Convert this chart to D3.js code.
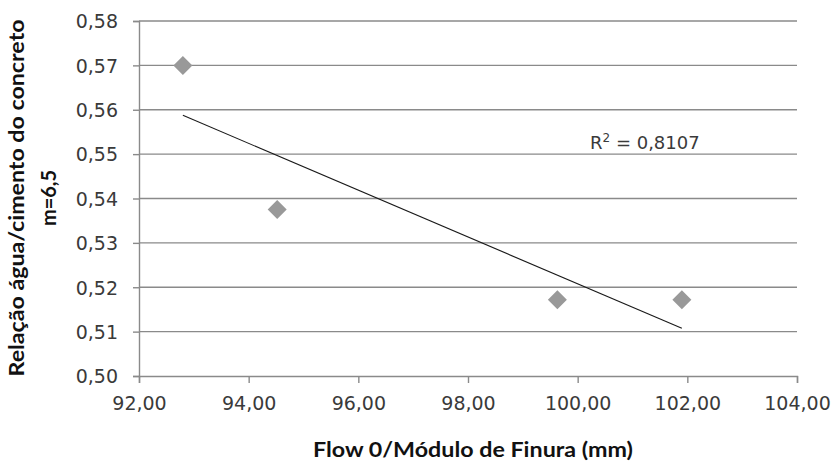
<!DOCTYPE html>
<html>
<head>
<meta charset="utf-8">
<script src="https://cdn.jsdelivr.net/npm/d3@7"></script>
<style>
  html, body { margin: 0; padding: 0; background: #ffffff; }
  svg { display: block; }
</style>
</head>
<body>
<svg id="chart" width="832" height="462"></svg>
<script>
// Flow 0 / módulo de finura (mm) vs. relação água/cimento (m = 6,5)
const flowValues = [92.80, 94.52, 99.63, 101.90];
const waterCementRatio = [0.5700, 0.5375, 0.5172, 0.5172];
const xTicks = [92, 94, 96, 98, 100, 102, 104];
const yTicks = [0.50, 0.51, 0.52, 0.53, 0.54, 0.55, 0.56, 0.57, 0.58];
const rSquaredLabel = "0,8107";
const xTitle = "Flow 0/Módulo de Finura (mm)";
const yTitleLines = ["Relação água/cimento do concreto", "m=6,5"];

const svg = d3.select("#chart");
const plotLeft = 139, plotRight = 797, plotTop = 21, plotBottom = 376;

const x = d3.scaleLinear().domain([92, 104]).range([plotLeft, plotRight]);
const y = d3.scaleLinear().domain([0.50, 0.58]).range([plotBottom, plotTop]);

const fmt = (d, p) => d.toFixed(p).replace(".", ",");
const tickFont = "'DejaVu Sans', sans-serif";
const gridColor = "#8a8a8a";

// horizontal gridlines
svg.append("g")
  .selectAll("line")
  .data(yTicks.filter(d => d > 0.50))
  .join("line")
  .attr("x1", plotLeft).attr("x2", plotRight)
  .attr("y1", d => y(d)).attr("y2", d => y(d))
  .attr("stroke", gridColor).attr("stroke-width", 1.4);

// y axis
const yAxis = svg.append("g")
  .attr("transform", `translate(${plotLeft},0)`)
  .call(d3.axisLeft(y).tickValues(yTicks).tickSize(6).tickPadding(15).tickFormat(d => fmt(d, 2)));
yAxis.select(".domain").attr("stroke", gridColor).attr("stroke-width", 1.4);
yAxis.selectAll(".tick line").attr("stroke", gridColor).attr("stroke-width", 1.4);
yAxis.selectAll(".tick text")
  .attr("font-family", tickFont).attr("font-size", 19).attr("fill", "#3a3a3a")
  .attr("dy", "0.36em");

// x axis
const xAxis = svg.append("g")
  .attr("transform", `translate(0,${plotBottom})`)
  .call(d3.axisBottom(x).tickValues(xTicks).tickSize(7).tickPadding(14).tickFormat(d => fmt(d, 2)));
xAxis.select(".domain").attr("stroke", gridColor).attr("stroke-width", 1.4);
xAxis.selectAll(".tick line").attr("stroke", gridColor).attr("stroke-width", 1.4);
xAxis.selectAll(".tick text")
  .attr("font-family", tickFont).attr("font-size", 19).attr("fill", "#3a3a3a");

// linear trendline (least squares) spanning the data range
const n = flowValues.length;
const mx = d3.mean(flowValues), my = d3.mean(waterCementRatio);
let sxy = 0, sxx = 0;
for (let i = 0; i < n; i++) {
  sxy += (flowValues[i] - mx) * (waterCementRatio[i] - my);
  sxx += (flowValues[i] - mx) ** 2;
}
const slope = sxy / sxx, intercept = my - slope * mx;
const xMin = d3.min(flowValues), xMax = d3.max(flowValues);
svg.append("line")
  .attr("x1", x(xMin)).attr("y1", y(intercept + slope * xMin))
  .attr("x2", x(xMax)).attr("y2", y(intercept + slope * xMax))
  .attr("stroke", "#1a1a1a").attr("stroke-width", 1.1);

// diamond markers
const half = 9.5;
svg.append("g")
  .selectAll("path")
  .data(flowValues.map((v, i) => [v, waterCementRatio[i]]))
  .join("path")
  .attr("d", d => {
    const cx = x(d[0]), cy = y(d[1]);
    return `M${cx},${cy - half}L${cx + half},${cy}L${cx},${cy + half}L${cx - half},${cy}Z`;
  })
  .attr("fill", "#999999");

// R² label
const rText = svg.append("text")
  .attr("x", 590).attr("y", 149)
  .attr("font-family", tickFont).attr("font-size", 18).attr("fill", "#3a3a3a");
rText.append("tspan").text("R");
rText.append("tspan").attr("font-size", 12).attr("dy", -7).text("2");
rText.append("tspan").attr("dy", 7).text(" = " + rSquaredLabel);

// axis titles
const titleFont = "Lato, 'Open Sans', sans-serif";
svg.append("text")
  .attr("x", 473).attr("y", 457)
  .attr("text-anchor", "middle")
  .attr("font-family", titleFont).attr("font-weight", "bold").attr("font-size", 20)
  .attr("fill", "#111")
  .attr("textLength", 320).attr("lengthAdjust", "spacingAndGlyphs")
  .text(xTitle);

const yTitle = svg.append("g").attr("transform", "rotate(-90)");
yTitle.append("text")
  .attr("x", -198).attr("y", 24)
  .attr("text-anchor", "middle")
  .attr("font-family", titleFont).attr("font-weight", "bold").attr("font-size", 20)
  .attr("fill", "#111")
  .attr("textLength", 357).attr("lengthAdjust", "spacingAndGlyphs")
  .text(yTitleLines[0]);
yTitle.append("text")
  .attr("x", -198).attr("y", 56)
  .attr("text-anchor", "middle")
  .attr("font-family", titleFont).attr("font-weight", "bold").attr("font-size", 20)
  .attr("fill", "#111")
  .text(yTitleLines[1]);
</script>
</body>
</html>
